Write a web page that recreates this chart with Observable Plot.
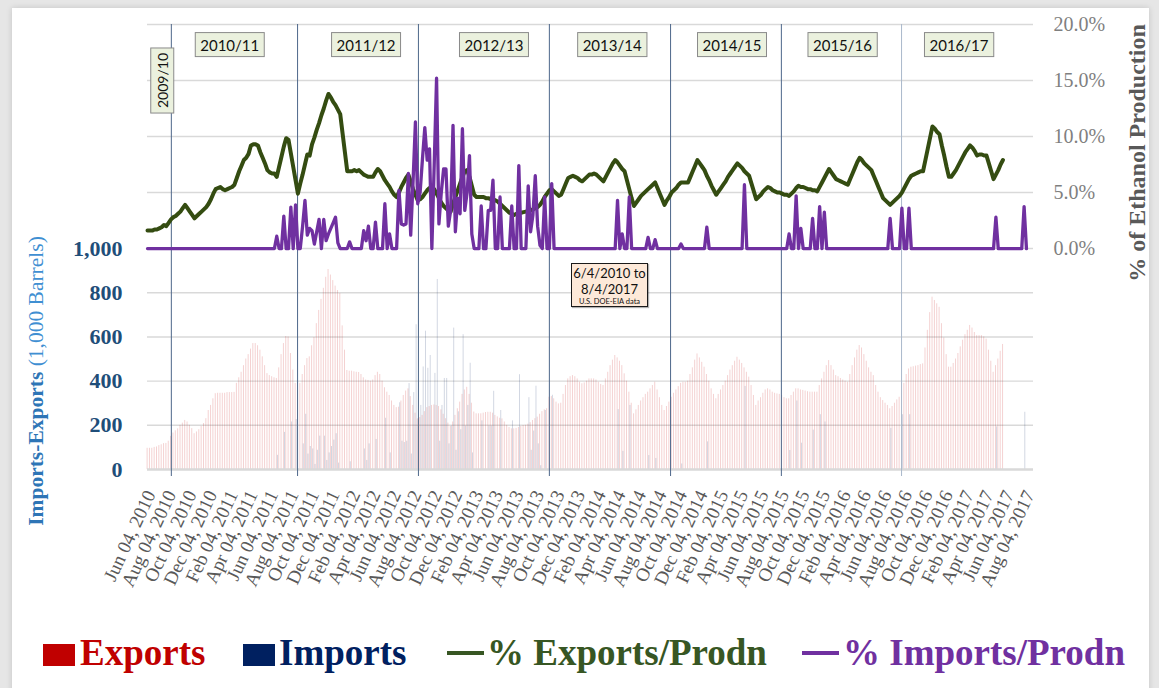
<!DOCTYPE html>
<html><head><meta charset="utf-8">
<script src="https://cdn.jsdelivr.net/npm/d3@7"></script>
<script src="https://cdn.jsdelivr.net/npm/@observablehq/plot@0.6"></script>
<style>
html,body{margin:0;padding:0;width:1159px;height:688px;overflow:hidden;background:#e6e6e6;}
#panel{position:absolute;left:12px;top:8px;width:1137px;height:700px;background:#fff;box-shadow:0 0 6px rgba(0,0,0,0.15);}
#chart{position:absolute;left:0;top:0;}
#note{position:absolute;left:571px;top:263px;width:75px;height:42px;background:#fde9d9;border:1.5px solid #1a1a1a;box-shadow:1px 1px 1px rgba(0,0,0,0.3);font-family:Lato,'Open Sans',sans-serif;text-align:center;color:#111;white-space:nowrap;}
#note .a{font-size:13px;line-height:15.5px;margin-top:2px;}
#note .b{font-size:7.5px;line-height:9px;}
.lg{position:absolute;font-family:'Liberation Serif',serif;font-weight:bold;font-size:37px;line-height:37px;white-space:nowrap;top:634px;}
.sq{position:absolute;top:644px;width:32px;height:22px;}
.dash{position:absolute;top:651px;height:3.5px;width:37px;}
</style></head>
<body>
<div id="panel"></div>
<div id="chart"></div>
<div id="note"><div class="a">6/4/2010 to<br>8/4/2017</div><div class="b">U.S. DOE-EIA data</div></div>
<div class="sq" style="left:43px;background:#c00000"></div><div class="lg" style="left:80px;color:#c00000">Exports</div>
<div class="sq" style="left:243px;background:#002060"></div><div class="lg" style="left:279px;color:#002060">Imports</div>
<div class="dash" style="left:447px;background:#375623"></div><div class="lg" style="left:487px;color:#375623">% Exports/Prodn</div>
<div class="dash" style="left:802px;background:#7030a0"></div><div class="lg" style="left:843px;color:#7030a0">% Imports/Prodn</div>
<script>
// ---- weekly series, first week = Jun 04, 2010 (Fridays) ----
const firstWeek = "2010-06-04";
const weekCount = 375; // through Aug 04, 2017

// Exports, 1,000 barrels per week (left axis)
const exportsKbbl = [
96,96,96,100,102,108,112,117,118,128,
150,165,175,184,200,210,222,215,200,185,
162,170,180,195,208,230,267,290,320,343,
345,345,345,345,348,348,348,349,390,415,
440,470,500,520,545,570,570,560,540,510,
470,434,425,420,415,412,460,520,570,602,
600,525,450,390,357,390,430,470,502,510,
560,597,660,720,770,820,870,905,880,855,
830,810,796,650,540,448,445,445,442,440,
439,430,415,405,403,400,405,425,440,430,
400,370,350,335,310,290,280,282,310,335,
355,365,330,290,255,229,235,245,262,280,
285,290,292,290,285,270,250,230,210,195,
215,245,275,305,340,360,372,340,300,260,
252,252,252,255,258,259,259,255,245,238,
232,229,215,200,190,184,184,186,190,195,
199,200,205,212,222,230,237,250,262,270,
275,327,330,320,305,297,300,340,380,410,
420,425,420,410,395,388,392,400,410,410,
410,405,395,385,380,410,440,470,495,516,
505,490,470,433,400,350,300,252,270,290,
310,325,340,350,365,380,395,360,325,290,
267,285,305,327,345,360,375,390,395,395,
400,430,460,495,523,505,485,463,430,400,
365,340,320,340,360,380,400,425,450,470,
490,508,495,480,460,440,418,380,335,290,
310,325,345,360,365,360,350,345,342,340,
335,325,320,320,335,350,365,365,360,358,
355,352,350,350,350,350,380,410,440,470,
493,470,450,425,420,412,405,400,395,430,
470,505,540,561,550,520,490,460,440,425,
380,350,325,312,300,290,275,285,300,315,
327,355,390,430,455,463,465,468,470,475,
478,550,630,710,780,765,750,734,660,595,
520,463,463,480,500,525,555,585,610,630,
652,640,620,606,606,606,600,590,540,490,
440,470,500,535,566];

// Exports as % of ethanol production (right axis)
const pctExports = [
1.6,1.6,1.6,1.7,1.7,1.8,1.9,2.1,2.0,2.3,
2.6,2.8,2.9,3.1,3.3,3.6,3.9,3.6,3.3,3.0,
2.7,2.9,3.1,3.3,3.5,3.7,4.0,4.4,4.9,5.3,
5.4,5.5,5.3,5.2,5.3,5.4,5.5,5.7,6.3,6.9,
7.4,7.9,8.1,8.45,9.2,9.3,9.3,9.2,8.6,8.1,
7.6,7.0,6.8,6.7,6.7,6.4,7.3,8.2,9.1,9.85,
9.7,8.5,7.3,6.1,4.9,5.8,6.6,7.5,8.4,8.3,
9.3,9.9,10.6,11.2,11.9,12.5,13.2,13.8,13.5,13.1,
12.8,12.4,12.0,10.3,8.6,6.9,6.9,6.9,7.0,6.9,
7.0,6.8,6.6,6.5,6.4,6.4,6.4,6.8,7.1,6.9,
6.5,6.1,5.8,5.5,5.1,4.8,4.6,5.0,5.5,5.9,
6.3,6.6,6.0,5.3,4.8,4.3,4.4,4.6,4.9,5.2,
5.4,5.5,5.3,4.9,4.5,4.1,3.8,3.6,3.4,3.3,
4.0,4.6,5.2,5.8,6.4,6.9,7.0,6.4,5.6,4.8,
4.6,4.6,4.6,4.6,4.5,4.5,4.4,4.4,4.3,4.2,
4.0,3.8,3.6,3.4,3.2,3.1,3.0,3.1,3.2,3.2,
3.25,3.3,3.3,3.4,3.5,3.6,3.7,3.9,4.2,4.6,
4.9,5.2,5.3,5.1,4.9,4.7,4.8,5.3,5.8,6.3,
6.4,6.5,6.4,6.3,6.1,6.0,6.2,6.4,6.6,6.6,
6.7,6.6,6.4,6.2,6.0,6.4,6.8,7.2,7.6,7.9,
7.7,7.4,7.1,6.9,6.1,5.3,4.5,3.8,4.1,4.4,
4.7,4.9,5.1,5.3,5.5,5.7,5.9,5.4,4.9,4.4,
3.9,4.3,4.6,5.0,5.2,5.4,5.7,5.9,5.9,5.9,
5.9,6.4,6.9,7.4,7.9,7.6,7.3,7.0,6.5,6.1,
5.6,5.2,4.8,5.1,5.4,5.7,6.0,6.4,6.7,7.0,
7.3,7.6,7.4,7.2,6.9,6.7,6.5,5.8,5.1,4.4,
4.6,4.8,5.1,5.3,5.5,5.4,5.2,5.1,5.0,5.0,
4.9,4.8,4.8,4.7,4.9,5.1,5.4,5.6,5.5,5.5,
5.4,5.3,5.3,5.2,5.2,5.1,5.5,5.9,6.3,6.7,
7.1,6.8,6.5,6.2,6.1,6.0,5.9,5.8,5.7,6.2,
6.7,7.2,7.7,8.1,7.9,7.6,7.4,7.2,7.0,6.5,
6.0,5.5,5.0,4.5,4.3,4.1,3.9,4.1,4.3,4.5,
4.7,5.0,5.4,5.8,6.2,6.5,6.6,6.7,6.8,6.9,
6.9,7.9,8.9,9.9,10.9,10.7,10.4,10.2,9.2,8.3,
7.3,6.4,6.4,6.7,7.0,7.4,7.8,8.2,8.6,8.9,
9.2,9.0,8.7,8.3,8.4,8.4,8.3,8.3,7.6,6.9,
6.2,6.6,7.0,7.5,7.9];

// Weeks (index from first week) with imports; all other weeks are 0
const importWeeks = [55,58,61,63,66,67,68,69,70,71,72,73,75,76,77,78,79,80,81,86,92,93,94,97,
101,103,107,108,109,110,111,112,113,114,115,116,117,118,119,120,122,123,124,125,126,127,128,129,
130,131,132,133,134,135,136,137,138,142,145,146,147,150,155,158,162,163,164,165,166,167,169,172,
200,202,205,213,216,227,238,254,273,276,278,283,286,288,316,321,324,361,373];
const importsKbbl = [64,168,215,226,116,250,70,104,93,23,87,151,151,41,75,104,133,162,29,35,93,41,116,136,
232,75,302,128,122,128,389,70,348,655,232,290,464,626,458,516,435,860,128,290,412,412,116,197,
640,87,261,180,610,197,290,481,75,220,197,197,354,267,220,429,325,87,174,377,116,17,267,336,
271,82,290,63,50,25,125,376,86,310,119,178,248,215,186,248,248,193,259];
const pctImports = [1.1,2.9,3.7,3.9,2.0,4.3,1.2,1.8,1.6,0.4,1.5,2.6,2.6,0.7,1.3,1.8,2.3,2.8,0.5,0.6,1.6,0.7,2.0,2.35,
4.0,1.3,5.2,2.2,2.1,2.2,6.7,1.2,6.0,11.3,4.0,5.0,8.0,10.8,7.9,8.9,7.5,15.2,2.2,5.0,7.1,7.1,2.0,3.4,
11.0,1.5,4.5,3.1,10.7,3.4,5.0,8.3,1.3,3.8,3.4,3.4,6.1,4.6,3.8,7.4,5.6,1.5,3.0,6.5,2.0,0.3,4.6,5.8,
4.3,1.3,4.6,1.0,0.8,0.4,1.9,5.7,1.3,4.7,1.8,2.7,3.75,3.25,2.7,3.6,3.6,2.8,3.75];

// Marketing-year separators and labels
const yearLines = ["2010-08-14","2011-08-25","2012-08-19","2013-09-13","2014-09-09","2015-08-05","2016-07-28"];
const seasonLabels = ["2010/11","2011/12","2012/13","2013/14","2014/15","2015/16","2016/17"];
const seasonLabelDates = ["2011-02-04","2012-03-16","2013-04-01","2014-03-19","2015-03-11","2016-02-03","2017-01-15"];
const firstSeasonLabel = "2009/10", firstSeasonDate = "2010-07-21";

// Axes
const leftTicks = [0,200,400,600,800,1000];
const rightTicksPct = [0,5,10,15,20];
const xTickDates = ["2010-06-04","2010-08-04","2010-10-04","2010-12-04",
"2011-02-04","2011-04-04","2011-06-04","2011-08-04","2011-10-04","2011-12-04",
"2012-02-04","2012-04-04","2012-06-04","2012-08-04","2012-10-04","2012-12-04",
"2013-02-04","2013-04-04","2013-06-04","2013-08-04","2013-10-04","2013-12-04",
"2014-02-04","2014-04-04","2014-06-04","2014-08-04","2014-10-04","2014-12-04",
"2015-02-04","2015-04-04","2015-06-04","2015-08-04","2015-10-04","2015-12-04",
"2016-02-04","2016-04-04","2016-06-04","2016-08-04","2016-10-04","2016-12-04",
"2017-02-04","2017-04-04","2017-06-04","2017-08-04"];

// ---- build table ----
const D = s => new Date(s + "T00:00:00Z");
const t0 = D(firstWeek);
const impIndex = new Map(importWeeks.map((w, k) => [w, k]));
const rows = d3.range(weekCount).map(i => ({
  date: d3.utcDay.offset(t0, 7 * i),
  exp: i < exportsKbbl.length ? exportsKbbl[i] : null,
  pe: i < pctExports.length ? pctExports[i] : null,
  imp: impIndex.has(i) ? importsKbbl[impIndex.get(i)] : 0,
  pi: impIndex.has(i) ? pctImports[impIndex.get(i)] : 0
}));

// dual axis: the right (percent) axis shares the vertical space; 0% sits at 1,000
const PCT_UNIT = 50.7;
const yPct = p => 1000 + p * PCT_UNIT;
const yTop = yPct(20);

const serif = "'Liberation Serif', 'DejaVu Serif', serif";
const plot = Plot.plot({
  width: 1159, height: 620,
  marginLeft: 147, marginRight: 126, marginTop: 24, marginBottom: 151,
  style: {fontFamily: serif, background: "transparent", overflow: "visible"},
  x: {type: "utc", domain: [t0, D("2017-08-25")], axis: null},
  y: {domain: [0, yTop], axis: null},
  marks: [
    Plot.ruleY([...leftTicks.slice(1), ...rightTicksPct.slice(1).map(yPct)], {stroke: "#d9d9d9", strokeWidth: 1.4}),
    Plot.ruleX(rows.filter(d => d.exp != null), {x: "date", y1: 0, y2: "exp", stroke: "#c00000", strokeOpacity: 0.18, strokeWidth: 1, dx: -0.4}),
    Plot.ruleX(rows.filter(d => d.imp > 0), {x: "date", y1: 0, y2: "imp", stroke: "#002060", strokeOpacity: 0.18, strokeWidth: 1, dx: 0.7}),
    Plot.ruleY([0], {stroke: "#d9d9d9", strokeWidth: 2.5}),
    Plot.ruleX(yearLines.map(D), {x: d => d, stroke: (d, i) => i === yearLines.length - 1 ? "#a9b8cb" : "#4d678a", strokeWidth: 1, insetBottom: -7}),
    Plot.line(rows.filter(d => d.pe != null), {x: "date", y: d => yPct(d.pe), stroke: "#344c11", strokeWidth: 4, strokeLinejoin: "round"}),
    Plot.line(rows, {x: "date", y: d => yPct(d.pi), stroke: "#7030a0", strokeWidth: 3.3, strokeLinejoin: "round"}),
    Plot.text(seasonLabels, {x: seasonLabelDates.map(D), y: yPct(18.1), text: d => d, fontFamily: "Lato, 'Open Sans', sans-serif", fontSize: 15, fill: "#111"}),
    Plot.text([firstSeasonLabel], {x: [D(firstSeasonDate)], y: yPct(15), text: d => d, rotate: -90, fontFamily: "Lato, 'Open Sans', sans-serif", fontSize: 14, fill: "#111"}),
    Plot.axisY(leftTicks, {anchor: "left", tickSize: 0, tickPadding: 25, tickFormat: d3.format(","), fontSize: 22, fontWeight: "bold", fill: "#1f4e79", label: null}),
    Plot.axisY(rightTicksPct.map(yPct), {anchor: "right", tickSize: 0, tickPadding: 20, tickFormat: v => ((v - 1000) / PCT_UNIT).toFixed(1) + "%", fontSize: 20, fill: "#7f7f7f", label: null}),
    Plot.axisX(xTickDates.map(D), {anchor: "bottom", tickSize: 0, tickPadding: 22, tickRotate: -65, tickFormat: d3.utcFormat("%b %d, %Y"), fontSize: 19, fill: "#595959", label: null, dx: 3})
  ]
});
document.getElementById("chart").appendChild(plot);

// boxes behind the marketing-year labels
const NS = "http://www.w3.org/2000/svg";
const boxed = new Set([...seasonLabels, firstSeasonLabel]);
plot.querySelectorAll("text").forEach(t => {
  if (!boxed.has(t.textContent)) return;
  const b = t.getBBox();
  const r = document.createElementNS(NS, "rect");
  r.setAttribute("x", b.x - 5); r.setAttribute("y", b.y - 3);
  r.setAttribute("width", b.width + 10); r.setAttribute("height", b.height + 6);
  r.setAttribute("fill", "#ebf1de"); r.setAttribute("stroke", "#8a8a8a"); r.setAttribute("stroke-width", "1");
  if (t.getAttribute("transform")) r.setAttribute("transform", t.getAttribute("transform"));
  t.parentNode.insertBefore(r, t);
});

// axis titles
function addTitle(tx, ty, parts, size) {
  const el = document.createElementNS(NS, "text");
  el.setAttribute("transform", `translate(${tx},${ty}) rotate(-90)`);
  el.setAttribute("text-anchor", "middle");
  el.setAttribute("dy", "0.35em");
  el.setAttribute("font-size", size);
  el.setAttribute("font-family", "Liberation Serif, serif");
  for (const [txt, weight, color] of parts) {
    const s = document.createElementNS(NS, "tspan");
    s.textContent = txt; s.setAttribute("font-weight", weight); s.setAttribute("fill", color);
    el.appendChild(s);
  }
  plot.appendChild(el);
}
addTitle(35, 381, [["Imports-Exports", "bold", "#2e75b6"], ["\u00a0(1,000 Barrels)", "normal", "#3f8fd2"]], 21.5);
addTitle(1137, 153, [["% of Ethanol Production", "bold", "#595959"]], 24);
</script>
</body></html>
